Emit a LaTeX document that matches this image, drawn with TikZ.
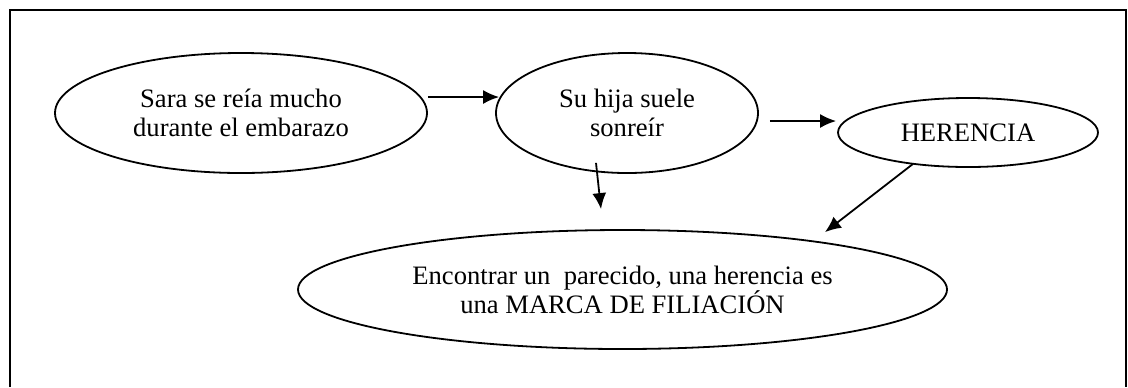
\documentclass[tikz,border=0pt]{standalone}
\usepackage{fontspec}
\setmainfont{Liberation Serif}
\usetikzlibrary{shapes.geometric,arrows.meta,calc}

\tikzset{
  idea/.style={draw, ellipse, line width=0.9pt, inner sep=0pt, align=center,
    font=\fontsize{13.3}{14.5}\selectfont},
  flecha/.style={-{Latex[length=8pt,width=7pt]}, line width=0.9pt}
}

\begin{document}
\begin{tikzpicture}[x=0.5pt,y=-0.5pt]

\useasboundingbox (0,0) rectangle (1128,387);

% marco
\draw [line width=1pt] (10,387) -- (10,10) -- (1126,10) -- (1126,387);

% nodes
\node [idea, minimum width=186pt, minimum height=60pt] (sara) at (241,113)
  {Sara se reía mucho\\durante el embarazo};
\node [idea, minimum width=131pt, minimum height=60pt] (hija) at (627,113)
  {Su hija suele\\sonreír};
\node [idea, minimum width=130pt, minimum height=34.5pt] (herencia) at (968,132.5)
  {HERENCIA};
\node [idea, minimum width=324.5pt, minimum height=59.5pt] (marca) at (622.5,289.5)
  {Encontrar un\ \ parecido, una herencia es\\una MARCA DE FILIACIÓN};

% arrows
\draw [flecha] ($(sara.east)+(0,-16)$) -- ($(hija.west)+(4,-16)$);
\draw [flecha] ($(hija.east)+(11,8)$) -- ($(herencia.west)+(-1,-11.5)$);
\draw [flecha] ($(hija.south)+(-31,-11)$) -- ($(marca.north)+(-21.5,-20)$);
\draw [flecha] ($(herencia.south)+(-55,-4)$) -- ($(marca.north)+(202.5,3)$);

\end{tikzpicture}
\end{document}
